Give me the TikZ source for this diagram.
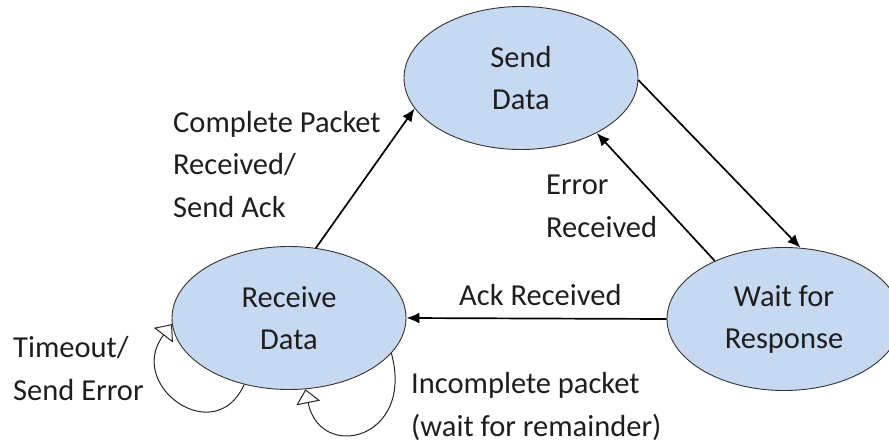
\documentclass[tikz,border=0pt]{standalone}
\usepackage{fontspec}
\setmainfont{Carlito}
\usetikzlibrary{shapes.geometric,arrows.meta}
\definecolor{stfill}{HTML}{C6D9F0}
\definecolor{txt}{HTML}{1E1E1E}
\tikzset{
  x=1pt, y=-1pt,
  state/.style={ellipse, draw=black!80, line width=0.9pt, fill=stfill,
    minimum width=234pt, minimum height=143pt, inner sep=0pt, align=center,
    text=txt, font=\fontsize{30.5}{42}\selectfont},
  lbl/.style={inner sep=0pt, align=left, text=txt, font=\fontsize{30.5}{42.5}\selectfont},
  trans/.style={line width=1.7pt, -{Latex[length=13pt,width=11pt]}},
  selfloop/.style={line width=1pt, black!85, -{Triangle[length=14pt,width=24pt,fill=white]}}
}
\begin{document}
\begin{tikzpicture}
\useasboundingbox (0,0) rectangle (889,444);
\clip (0,0) rectangle (889,444);
\node[state] (S) at (521,78) {Send\\Data};
\node[state] (R) at (289,318) {Receive\\Data};
\node[state] (W) at (784,319) {Wait for\\Response};

\draw[trans] (R.69) -- (S.196);
\draw[trans] (S.359) -- (W.77);
\draw[trans] (W.140) -- (S.324);
\draw[trans] (W.180) -- (R.0);

\draw[selfloop] (R.236) .. controls (215,450) and (125,385) .. (R.183);
\draw[selfloop] (R.341) .. controls (415,440) and (320,462) .. (R.283);

\node[lbl, anchor=base west] (l1) at (173,217) {Complete Packet\\Received/\\Send Ack};
\node[lbl, anchor=base west] (l2) at (546,237) {Error\\Received};
\node[lbl, anchor=base west] (l3) at (459,305) {Ack Received};
\node[lbl, anchor=base west] (l4) at (13,400) {Timeout/\\Send Error};
\node[lbl, anchor=base west] (l5) at (411,436) {Incomplete packet\\(wait for remainder)};
\end{tikzpicture}
\end{document}
